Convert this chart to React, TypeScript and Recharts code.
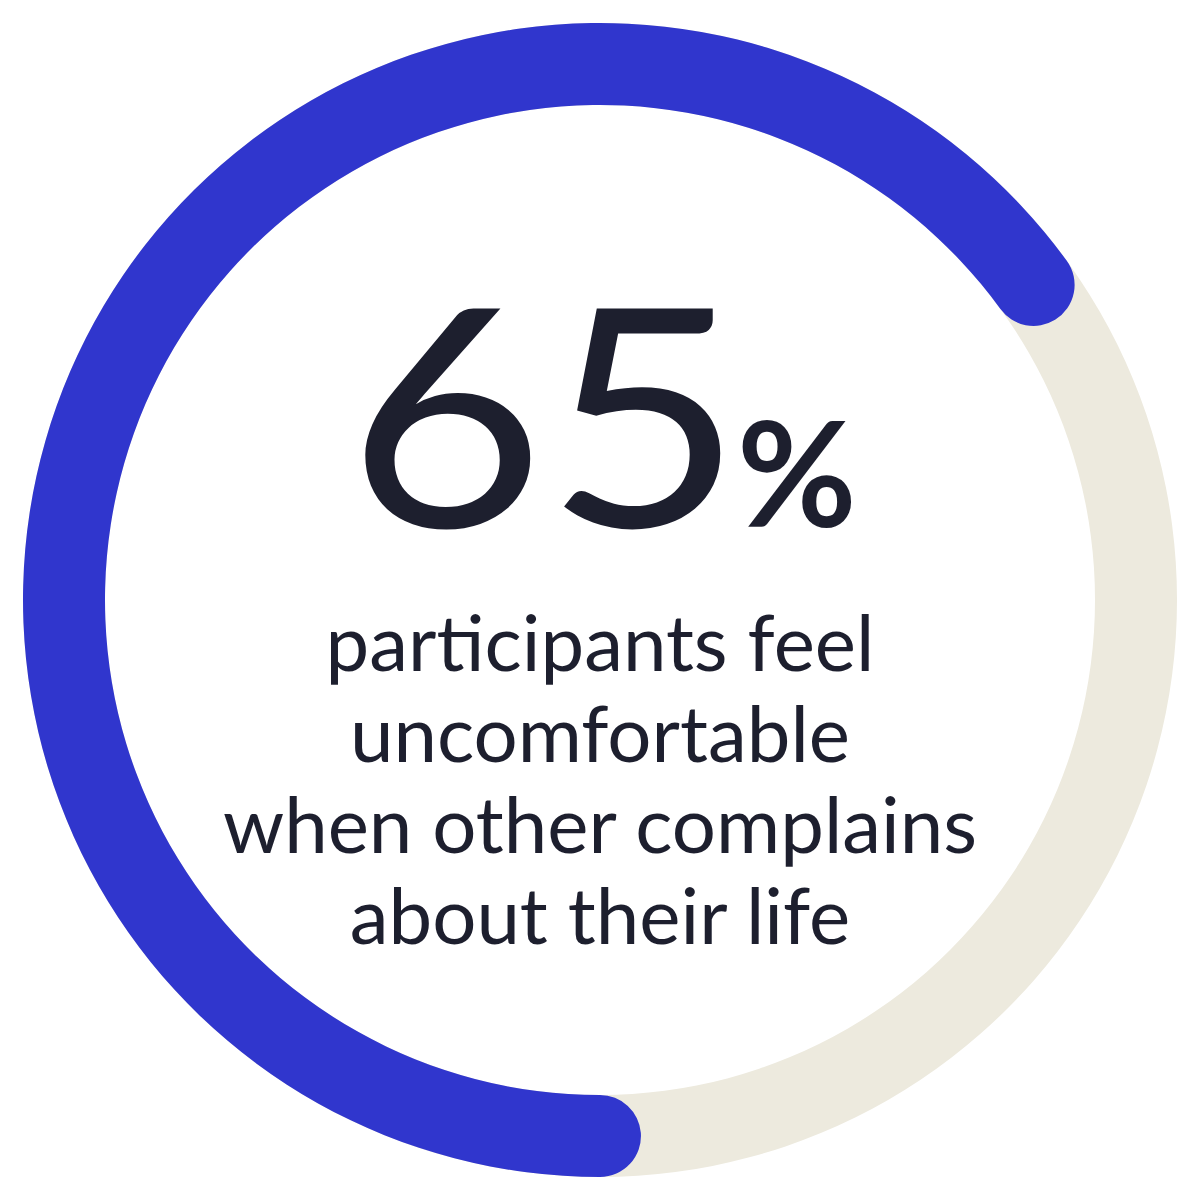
import React from 'react';
import { PieChart, Pie, Cell, Label } from 'recharts';

// ---- data ----
const shareData = [{ name: 'uncomfortable', value: 65 }];
const trackData = [{ name: 'total', value: 100 }];
const headlineValue = '65';
const headlineUnit = '%';
const captionLines = ['participants feel', 'uncomfortable', 'when other complains', 'about their life'];

// ---- style ----
const BLUE = '#3036CD';
const BEIGE = '#EDEADE';
const INK = '#1D1F2E';
const FONT = 'Lato, "Noto Sans", sans-serif';

const SIZE = 1200;
const CX = 600;
const CY = 600;
const INNER = 495;
const OUTER = 577;
const CAP = (OUTER - INNER) / 2;
const MID = (OUTER + INNER) / 2;
const CAP_DEG = (CAP / MID) * (180 / Math.PI);

const START = 270; // 6 o'clock, sweeping clockwise
const shareSweep = (shareData[0].value / trackData[0].value) * 360;

const CenterText = (props: any) => {
  const vb = props.viewBox || {};
  const cx = vb.cx ?? CX;
  const cy = vb.cy ?? CY;
  const numX = cx - 55;
  const baseY = cy - 73;
  return (
    <g fontFamily={FONT} fill={INK}>
      <g transform={`translate(${numX} ${baseY}) scale(1.12 1)`}>
        <text x={0} y={0} textAnchor="middle" fontSize={305} fontWeight={400} fill={INK}>
          {headlineValue}
        </text>
      </g>
      <text x={cx + 137} y={baseY} textAnchor="start" fontSize={146} fontWeight={700} fill={INK}>
        {headlineUnit}
      </text>
      {captionLines.map((line, i) => (
        <text
          key={line}
          x={cx}
          y={cy + 71 + i * 91}
          textAnchor="middle"
          fontSize={78}
          fontWeight={400}
          fill={INK}
        >
          {line}
        </text>
      ))}
    </g>
  );
};

export default function App() {
  return (
    <div style={{ position: 'absolute', left: 0, top: 0, width: SIZE, height: SIZE, background: '#fff' }}>
      <PieChart width={SIZE} height={SIZE} margin={{ top: 0, right: 0, bottom: 0, left: 0 }}>
        <Pie
          data={trackData}
          dataKey="value"
          cx={CX}
          cy={CY}
          innerRadius={INNER}
          outerRadius={OUTER}
          startAngle={START}
          endAngle={START - 360}
          stroke="none"
          isAnimationActive={false}
        >
          {trackData.map((d) => (
            <Cell key={d.name} fill={BEIGE} />
          ))}
        </Pie>
        <Pie
          data={shareData}
          dataKey="value"
          cx={CX}
          cy={CY}
          innerRadius={INNER}
          outerRadius={OUTER}
          startAngle={START + CAP_DEG}
          endAngle={START - shareSweep - CAP_DEG}
          cornerRadius={CAP}
          stroke="none"
          isAnimationActive={false}
        >
          {shareData.map((d) => (
            <Cell key={d.name} fill={BLUE} />
          ))}
          <Label position="center" content={<CenterText />} />
        </Pie>
      </PieChart>
    </div>
  );
}
